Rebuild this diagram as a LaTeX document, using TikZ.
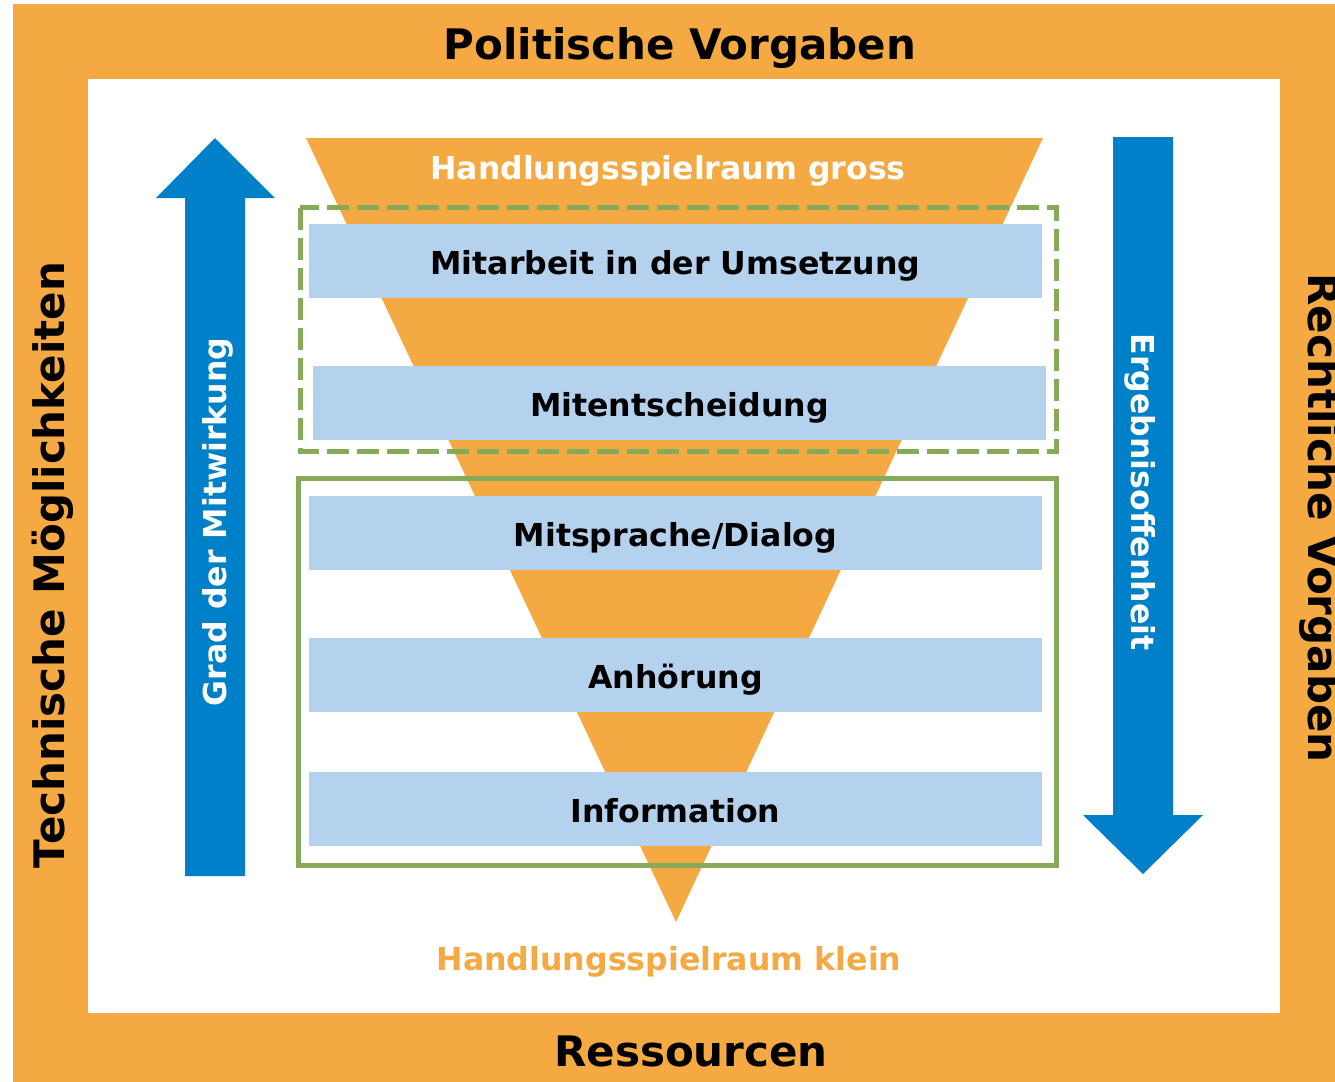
\documentclass[tikz,border=0pt]{standalone}
\usepackage{fontspec}
\setmainfont{DejaVu Sans}
\usetikzlibrary{positioning}

\definecolor{frameorange}{RGB}{245,169,66}
\definecolor{arrowblue}{RGB}{0,128,200}
\definecolor{levelblue}{RGB}{180,209,238}
\definecolor{groupgreen}{RGB}{134,170,90}

\begin{document}
\begin{tikzpicture}[x=0.5pt, y=-0.5pt,
	level/.style={fill=levelblue, minimum width=\levelw, minimum height=\levelh, inner sep=0pt,
		text height=13pt, text depth=0pt, font=\fontsize{15.8}{19}\bfseries},
	frametext/.style={font=\fontsize{21}{25}\bfseries},
	arrowtext/.style={text=white, font=\fontsize{15.8}{19}\bfseries},
	scopetext/.style={font=\fontsize{15.8}{19}\bfseries},
	grouprect/.style={draw=groupgreen, line width=2.5pt}]
			
			% parameters
			\def\levelw{366.5pt}   % width of a level box
			\def\levelh{37pt}      % height of a level box
			\def\levelx{675.5}     % x of the level boxes
			
			% canvas
			\useasboundingbox (0,0) rectangle (1335,1082);
			
			% orange frame
			\fill[frameorange] (13,4) rectangle (1345,1095);
			\fill[white] (88,79) rectangle (1280,1013);
			
			% frame labels
			\node[frametext] (politik) at (680,48) {Politische Vorgaben};
			\node[frametext] (ressourcen) at (691,1051) {Ressourcen};
			\node[frametext, rotate=90] (technik) at (53,565) {Technische Möglichkeiten};
			\node[frametext, rotate=-90] (recht) at (1320,518) {Rechtliche Vorgaben};
			
			% funnel
			\fill[frameorange] (306,138) -- (1043,138) -- (676,922) -- cycle;
			\node[scopetext, text=white] (gross) at (668,171) {Handlungsspielraum gross};
			\node[scopetext, text=frameorange] (klein) at (669,962) {Handlungsspielraum klein};
			
			% levels
			\node[level] (umsetzung) at (\levelx,261) {Mitarbeit in der Umsetzung};
			\node[level] (entscheidung) at (679.5,403) {Mitentscheidung};
			\node[level] (dialog) at (\levelx,533) {Mitsprache/Dialog};
			\node[level] (anhoerung) at (\levelx,675) {Anhörung};
			\node[level] (information) at (\levelx,809) {Information};
			
			% groups
			\draw[grouprect, dash pattern=on 11pt off 4pt] (300,207.5) rectangle (1056,451);
			\draw[grouprect] (298,478) rectangle (1056,865);
			
			% up arrow
			\fill[arrowblue] (185,876) -- (185,198) -- (156,198) -- (215,138)
			-- (275,198) -- (245,198) -- (245,876) -- cycle;
			\node[arrowtext, rotate=90] (mitwirkung) at (218,522) {Grad der Mitwirkung};
			
			% down arrow
			\fill[arrowblue] (1113,137) -- (1113,815) -- (1083,815) -- (1143,874)
			-- (1203,815) -- (1173,815) -- (1173,137) -- cycle;
			\node[arrowtext, rotate=-90] (offenheit) at (1140,492) {Ergebnisoffenheit};
		\end{tikzpicture}
\end{document}
